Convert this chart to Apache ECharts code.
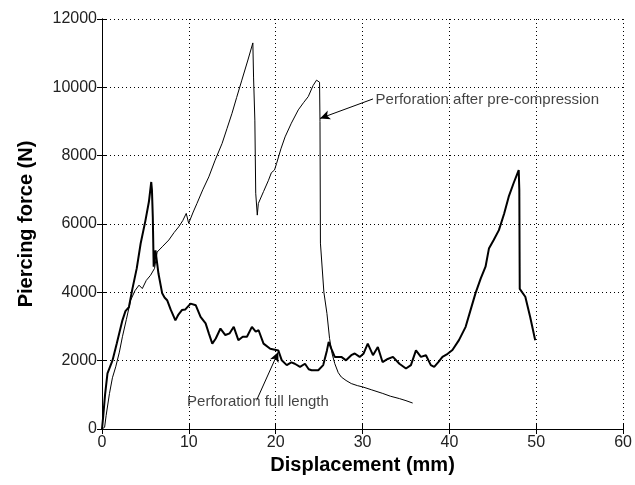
<!DOCTYPE html>
<html>
<head>
<meta charset="utf-8">
<script src="https://cdn.jsdelivr.net/npm/echarts@6/dist/echarts.min.js"></script>
<style>
html, body { margin: 0; padding: 0; background: #fff; }
#main { width: 635px; height: 485px; }
</style>
</head>
<body>
<div id="main"></div>
<script>
var myChart = echarts.init(document.getElementById('main'));

// perforation after pre-compression (thin line): displacement mm, force N
var preX = [0, 0.3, 0.48, 0.86, 1.2, 1.58, 2.0, 2.35, 2.8, 3.3, 3.8, 4.26, 4.64, 5.1, 5.59, 6.05, 6.35, 7.0, 7.69, 8.3,
	8.84, 9.3, 9.7, 9.98, 10.5, 10.93, 11.6, 12.3, 13.0, 13.83, 14.4, 14.97, 15.5, 16.1, 16.8, 17.37, 17.45, 17.6, 17.7, 17.88,
	18.0, 18.6, 19.17, 19.5, 19.86, 20.1, 20.6, 21.08, 21.8, 22.6, 23.2, 23.75, 24.3, 24.7, 24.8, 25.05, 25.1, 25.15, 25.55, 25.9,
	26.2, 26.5, 26.8, 27.2, 27.56, 28.1, 28.7, 29.4, 30.04, 31.0, 32.33, 33.2, 34.24, 35.0, 35.77];
var preY = [0, 50, 400, 1040, 1500, 1820, 2250, 2700, 3200, 3770, 4050, 4210, 4110, 4350, 4500, 4700, 5180, 5350, 5530, 5750,
	5920, 6100, 6310, 6020, 6350, 6600, 7000, 7380, 7850, 8360, 8800, 9240, 9700, 10210, 10800, 11300, 10300, 9040, 6900, 6260,
	6600, 6950, 7280, 7500, 7580, 7770, 8200, 8550, 8950, 9340, 9550, 9730, 10050, 10210, 10250, 10150, 9000, 5440, 4000, 3380,
	2650, 2200, 1915, 1650, 1520, 1420, 1330, 1270, 1230, 1150, 1040, 960, 890, 830, 760];

// perforation full length (thick line)
var fullX = [0, 0.15, 0.3, 0.35, 0.63, 1.2, 1.7, 2.35, 2.7, 3.1, 3.5, 4.0, 4.45, 5.0, 5.4, 5.67, 5.75, 5.85, 5.95, 6.16,
	6.5, 6.93, 7.2, 7.5, 7.9, 8.45, 8.8, 9.2, 9.6, 10.2, 10.8, 11.35, 11.93, 12.3, 12.7, 13.1, 13.64, 14.2, 14.7, 15.17,
	15.7, 16.2, 16.69, 17.26, 17.7, 18.03, 18.6, 19.37, 20.3, 20.7, 21.27, 21.8, 22.2, 22.8, 23.37, 23.8, 24.13, 24.9, 25.47, 25.9,
	26.1, 26.4, 26.8, 27.56, 28.1, 28.7, 29.1, 29.67, 30.1, 30.6, 31.2, 31.76, 32.3, 32.9, 33.5, 34.24, 35.0, 35.57, 36.15, 36.72,
	37.3, 37.86, 38.25, 38.7, 39.2, 39.8, 40.35, 41.1, 41.87, 42.4, 43.0, 43.6, 44.16, 44.55, 45.1, 45.7, 46.3, 46.83, 47.4, 47.98,
	48.05, 48.1, 48.16, 48.74, 49.3, 49.88];
var fullY = [0, 400, 400, 1000, 1630, 2000, 2500, 3180, 3450, 3570, 4100, 4700, 5430, 6100, 6650, 7230, 7000, 6200, 4750, 5230,
	4550, 3970, 3850, 3770, 3500, 3180, 3350, 3480, 3500, 3670, 3620, 3280, 3090, 2800, 2500, 2650, 2940, 2750, 2800, 2990,
	2600, 2700, 2700, 2990, 2850, 2890, 2500, 2350, 2300, 2010, 1870, 1950, 1910, 1820, 1910, 1750, 1720, 1720, 1870, 2300,
	2550, 2350, 2110, 2110, 2010, 2160, 2210, 2110, 2200, 2500, 2160, 2400, 1960, 2050, 2110, 1910, 1770, 1870, 2300, 2110,
	2160, 1870, 1820, 1950, 2110, 2200, 2310, 2600, 2990, 3450, 3970, 4400, 4750, 5280, 5530, 5820, 6300, 6800, 7200, 7580,
	7000, 4100, 4060, 3870, 3280, 2600];

// annotations: text anchor and arrow tail -> head
var noteText = ['Perforation after pre-compression', 'Perforation full length'];
var noteX = [31.5, 9.8];
var noteY = [9620, 780];
var arrowFrom = [[31.2, 9660], [17.8, 840]];
var arrowTo = [[25.1, 9090], [20.3, 2255]];

var pairs = function (xs, ys) {
	var out = [];
	for (var i = 0; i < xs.length; i++) {
		out.push([xs[i], ys[i]]);
	}
	return out;
};

var plain = function (v) { return String(v); };
var tickFont = { fontFamily: 'Liberation Sans, Arial, sans-serif', fontSize: 16, color: '#222', formatter: plain };
var titleFont = { fontFamily: 'Liberation Sans, Arial, sans-serif', fontSize: 20, fontWeight: 'bold', color: '#000' };
var dotted = { type: [1, 3], color: '#000', width: 1 };

var option = {
	animation: false,
	backgroundColor: '#fff',
	grid: { left: 102, right: 8, top: 19, bottom: 56 },
	xAxis: [{
		type: 'value', min: 0, max: 60, interval: 10, position: 'bottom',
		name: 'Displacement (mm)', nameLocation: 'middle', nameGap: 26, nameTextStyle: titleFont,
		axisLine: { show: true, lineStyle: { color: '#000', width: 1 } },
		axisTick: { show: true, inside: true, length: 5, lineStyle: { color: '#000' } },
		axisLabel: Object.assign({ margin: 6 }, tickFont),
		splitLine: { show: true, lineStyle: dotted }
	}, {
		type: 'value', min: 0, max: 60, interval: 10, position: 'top',
		axisLine: { show: true, lineStyle: { color: '#000', width: 1 } },
		axisTick: { show: true, inside: true, length: 5, lineStyle: { color: '#000' } },
		axisLabel: { show: false },
		splitLine: { show: false }
	}],
	yAxis: [{
		type: 'value', min: 0, max: 12000, interval: 2000, position: 'left',
		name: 'Piercing force (N)', nameLocation: 'middle', nameGap: 66, nameTextStyle: titleFont,
		axisLine: { show: true, lineStyle: { color: '#000', width: 1 } },
		axisTick: { show: true, inside: true, length: 5, lineStyle: { color: '#000' } },
		axisLabel: Object.assign({ margin: 5 }, tickFont),
		splitLine: { show: true, lineStyle: dotted }
	}, {
		type: 'value', min: 0, max: 12000, interval: 2000, position: 'right',
		axisLine: { show: true, lineStyle: { color: '#000', width: 1 } },
		axisTick: { show: true, inside: true, length: 5, lineStyle: { color: '#000' } },
		axisLabel: { show: false },
		splitLine: { show: false }
	}],
	series: [{
		name: 'Perforation after pre-compression',
		type: 'line',
		data: pairs(preX, preY),
		showSymbol: false,
		lineStyle: { color: '#000', width: 1 },
		markLine: {
			silent: true,
			symbol: ['none', 'arrow'],
			symbolSize: [7, 10],
			label: { show: false },
			lineStyle: { color: '#000', width: 1, type: 'solid' },
			data: arrowFrom.map(function (p, i) {
				return [{ coord: p }, { coord: arrowTo[i] }];
			})
		}
	}, {
		name: 'Perforation full length',
		type: 'line',
		data: pairs(fullX, fullY),
		showSymbol: false,
		lineStyle: { color: '#000', width: 2 }
	}, {
		name: 'notes',
		type: 'scatter',
		symbolSize: 0,
		silent: true,
		data: noteText.map(function (t, i) {
			return { value: [noteX[i], noteY[i]], name: t };
		}),
		label: {
			show: true, position: 'right', distance: 0,
			formatter: '{b}',
			fontFamily: 'Liberation Sans, Arial, sans-serif', fontSize: 15, color: '#111'
		}
	}]
};

myChart.setOption(option);
</script>
</body>
</html>
